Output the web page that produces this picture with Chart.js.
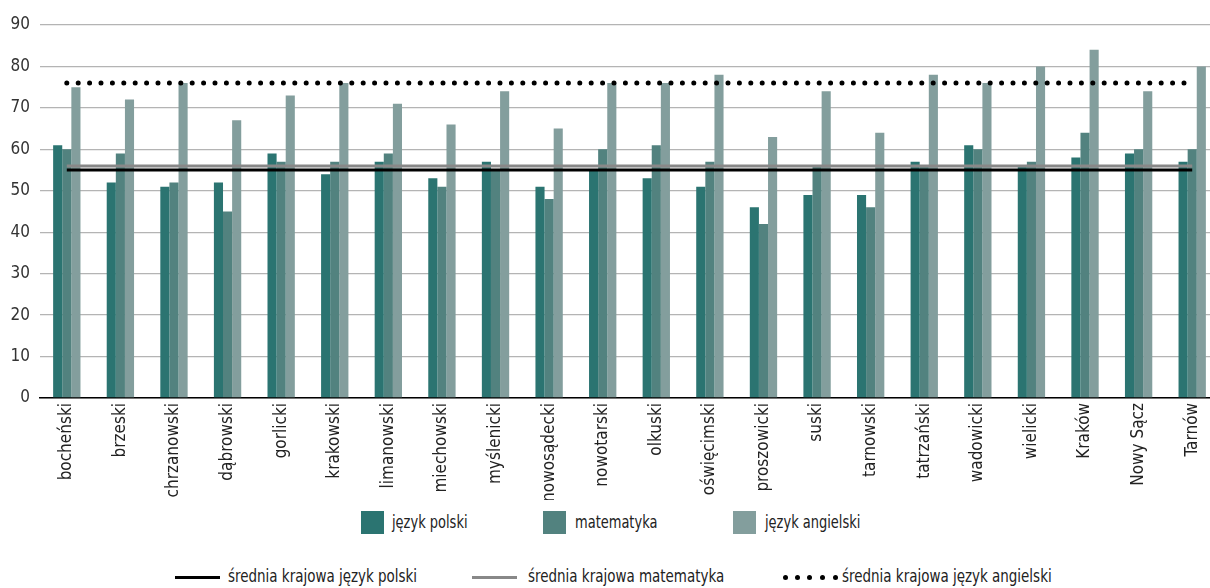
<!DOCTYPE html>
<html>
<head>
<meta charset="utf-8">
<script src="https://cdn.jsdelivr.net/npm/chart.js@4/dist/chart.umd.min.js"></script>
<style>
  html, body { margin: 0; padding: 0; background: #fff; overflow: hidden; width: 1210px; height: 588px; }
  body { position: relative; font-family: 'Liberation Sans Narrow', 'DejaVu Sans Condensed', 'Roboto', sans-serif; color: #222; }
  #wrap { position: absolute; left: 0; top: 0; width: 1219px; height: 500px; }
  .lg { position: absolute; font-size: 17px; line-height: 20px; white-space: nowrap; transform-origin: 0 50%; }
  .r1 { transform: scaleX(0.85); }
  .r2 { transform: scaleX(0.88); }
  .box { position: absolute; width: 23px; height: 23px; }
  .ln { position: absolute; height: 3px; width: 45px; }
  .dots { position: absolute; width: 56px; height: 5px; }
  .dots span { position: absolute; top: 0; width: 5px; height: 5px; border-radius: 50%; background: #000; }
</style>
</head>
<body>
<div id="wrap"><canvas id="c"></canvas></div>

<div class="box" style="left:361px;top:511px;background:#2B7471"></div>
<div class="lg r1" style="left:392px;top:512px">język polski</div>
<div class="box" style="left:543px;top:511px;background:#52827F"></div>
<div class="lg r1" style="left:575px;top:512px">matematyka</div>
<div class="box" style="left:733px;top:511px;background:#839E9D"></div>
<div class="lg r1" style="left:765px;top:512px">język angielski</div>

<div class="ln" style="left:175px;top:576px;background:#000"></div>
<div class="lg r2" style="left:228px;top:566px">średnia krajowa język polski</div>
<div class="ln" style="left:472px;top:576px;background:#888"></div>
<div class="lg r2" style="left:528px;top:566px">średnia krajowa matematyka</div>
<div class="dots" style="left:783px;top:575px"><span style="left:0"></span><span style="left:12px"></span><span style="left:24px"></span><span style="left:37px"></span><span style="left:50px"></span></div>
<div class="lg r2" style="left:842px;top:566px">średnia krajowa język angielski</div>

<script>
const categories = ['bocheński','brzeski','chrzanowski','dąbrowski','gorlicki','krakowski','limanowski','miechowski','myślenicki','nowosądecki','nowotarski','olkuski','oświęcimski','proszowicki','suski','tarnowski','tatrzański','wadowicki','wielicki','Kraków','Nowy Sącz','Tarnów'];
const jezykPolski   = [61,52,51,52,59,54,57,53,57,51,55,53,51,46,49,49,57,61,56,58,59,57];
const matematyka    = [60,59,52,45,57,57,59,51,55,48,60,61,57,42,56,46,56,60,57,64,60,60];
const jezykAngielski= [75,72,76,67,73,76,71,66,74,65,76,76,78,63,74,64,78,76,80,84,74,80];
const sredniaPolski = 55;
const sredniaMatematyka = 56;
const sredniaAngielski = 76;
const yTicks = [0,10,20,30,40,50,60,70,80,90];

const FONT = "'Liberation Sans Narrow', 'DejaVu Sans Condensed', sans-serif";
const flat = v => categories.map(() => v);

new Chart(document.getElementById('c'), {
  data: {
    labels: categories,
    datasets: [
      { type: 'line', label: 'średnia krajowa język polski', data: flat(sredniaPolski), borderColor: '#000', borderWidth: 3, pointRadius: 0, order: 0 },
      { type: 'line', label: 'średnia krajowa matematyka', data: flat(sredniaMatematyka), borderColor: '#888', borderWidth: 3, pointRadius: 0, order: 0 },
      { type: 'line', label: 'średnia krajowa język angielski', data: flat(sredniaAngielski), borderColor: '#000', borderWidth: 5, borderDash: [0, 11.4], borderCapStyle: 'round', pointRadius: 0, order: 0 },
      { type: 'bar', label: 'język polski', data: jezykPolski, backgroundColor: '#2B7471', order: 1 },
      { type: 'bar', label: 'matematyka', data: matematyka, backgroundColor: '#52827F', order: 1 },
      { type: 'bar', label: 'język angielski', data: jezykAngielski, backgroundColor: '#839E9D', order: 1 }
    ]
  },
  options: {
    responsive: true,
    maintainAspectRatio: false,
    animation: false,
    layout: { padding: { top: 25, left: 0, right: 0, bottom: 0 } },
    datasets: { bar: { categoryPercentage: 0.51, barPercentage: 1 } },
    plugins: { legend: { display: false }, tooltip: { enabled: false } },
    scales: {
      x: {
        grid: { display: false, drawTicks: false },
        border: { display: true, color: '#000', width: 1.5 },
        ticks: { color: '#222', font: { family: FONT, size: 17 }, minRotation: 90, maxRotation: 90, padding: 5, autoSkip: false },
        afterFit: s => { s.height = 102; }
      },
      y: {
        min: 0, max: 90,
        afterBuildTicks: s => { s.ticks = yTicks.map(v => ({ value: v })); },
        grid: { color: '#b4b4b4', lineWidth: 1.3, drawTicks: false },
        border: { display: false },
        ticks: { color: '#333', font: { family: FONT, size: 17 }, padding: 10 },
        afterFit: s => { s.width = 40; }
      }
    }
  }
});
</script>
</body>
</html>
